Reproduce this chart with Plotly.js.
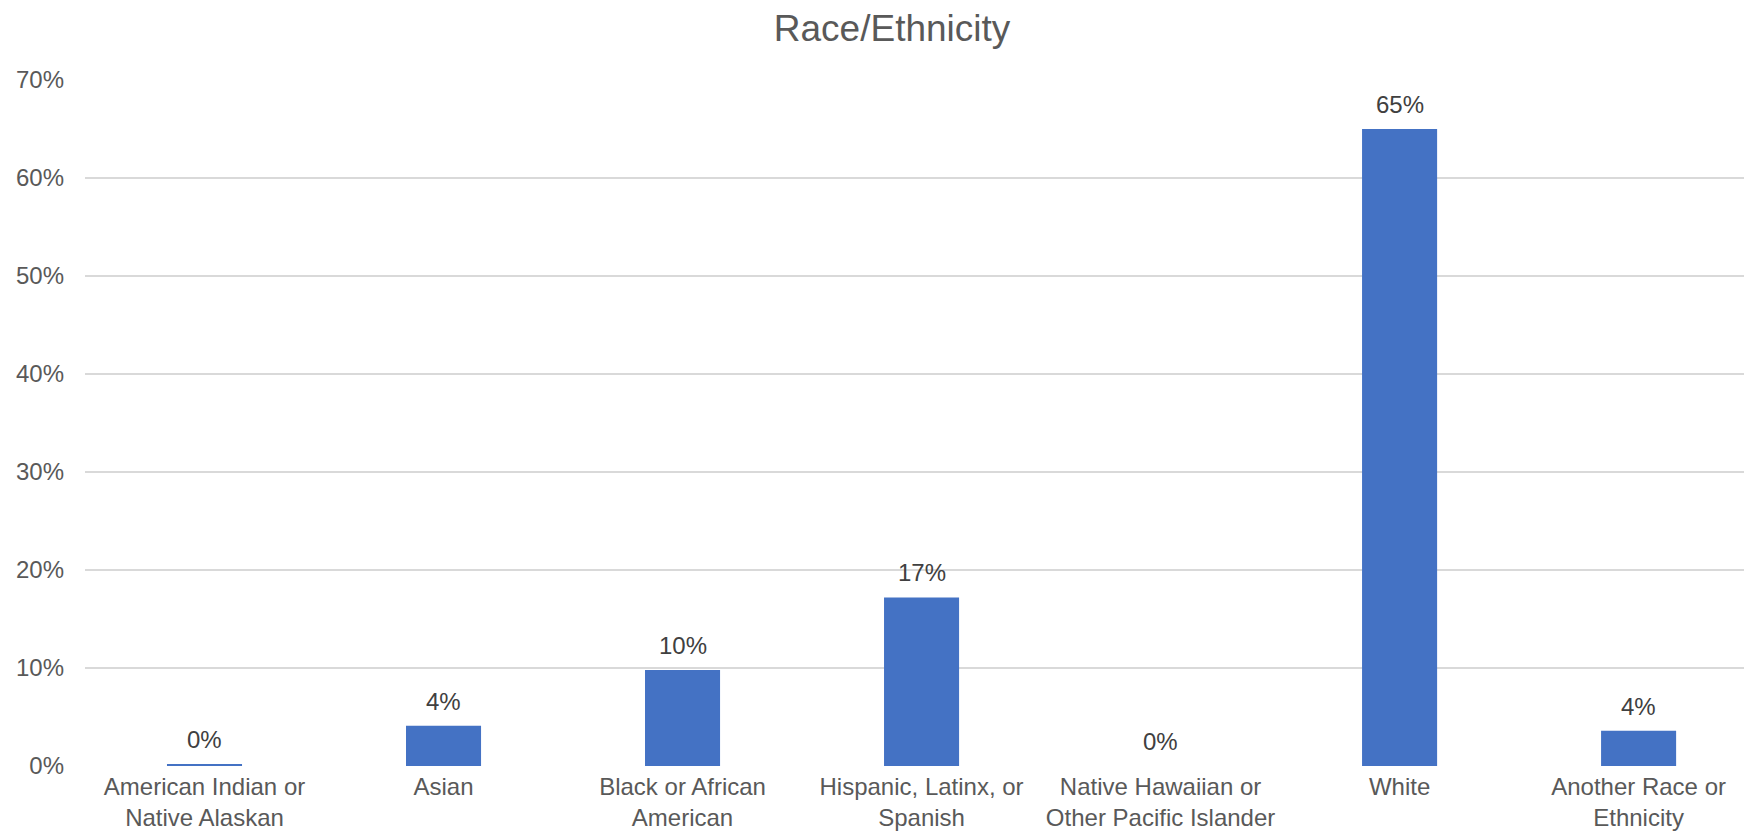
<!DOCTYPE html>
<html>
<head>
<meta charset="utf-8">
<script src="https://cdn.plot.ly/plotly-3.0.1.min.js"></script>
<style>html,body{margin:0;padding:0;background:#fff;}#chart{width:1744px;height:835px;}</style>
</head>
<body>
<div id="chart"></div>
<script>
const categories = [
  "American Indian or<br>Native Alaskan",
  "Asian",
  "Black or African<br>American",
  "Hispanic, Latinx, or<br>Spanish",
  "Native Hawaiian or<br>Other Pacific Islander",
  "White",
  "Another Race or<br>Ethnicity"
];
const values = [0.002, 0.041, 0.098, 0.172, 0.0, 0.650, 0.036];
const valueLabels = ["0%", "4%", "10%", "17%", "0%", "65%", "4%"];
const tickValues = [0, 0.1, 0.2, 0.3, 0.4, 0.5, 0.6, 0.7];
const tickLabels = ["0%", "10%", "20%", "30%", "40%", "50%", "60%", "70%"];

const fontFam = "Liberation Sans, Arial, sans-serif";

const trace = {
  type: "bar",
  x: categories,
  y: values,
  marker: { color: "#4472C4" },
  hoverinfo: "none"
};

const annotations = categories.map((c, i) => ({
  x: c, y: values[i], xref: "x", yref: "y",
  text: valueLabels[i], showarrow: false,
  yanchor: "bottom", yshift: 9,
  font: { family: fontFam, size: 24, color: "#404040" }
}));

const layout = {
  width: 1744, height: 835,
  margin: { l: 85, r: 0, t: 80, b: 69 },
  paper_bgcolor: "#fff", plot_bgcolor: "#fff",
  bargap: 0.686,
  showlegend: false,
  title: {
    text: "Race/Ethnicity",
    x: 0.5115, xref: "container", xanchor: "center",
    y: 0.966, yref: "container", yanchor: "middle",
    font: { family: fontFam, size: 37, color: "#595959" }
  },
  xaxis: {
    type: "category",
    range: [-0.5, 6.441],
    showgrid: false, zeroline: false, showline: false,
    ticks: "", ticklabelstandoff: 4,
    tickfont: { family: fontFam, size: 24, color: "#595959" },
    fixedrange: true
  },
  yaxis: {
    range: [0, 0.7],
    tickvals: tickValues, ticktext: tickLabels,
    showgrid: true, gridcolor: "#D9D9D9", gridwidth: 1.5,
    zeroline: false, showline: false,
    ticks: "", ticklabelstandoff: 20,
    tickfont: { family: fontFam, size: 24, color: "#595959" },
    fixedrange: true
  },
  annotations: annotations
};

Plotly.newPlot("chart", [trace], layout, { displayModeBar: false, staticPlot: true });
</script>
</body>
</html>
